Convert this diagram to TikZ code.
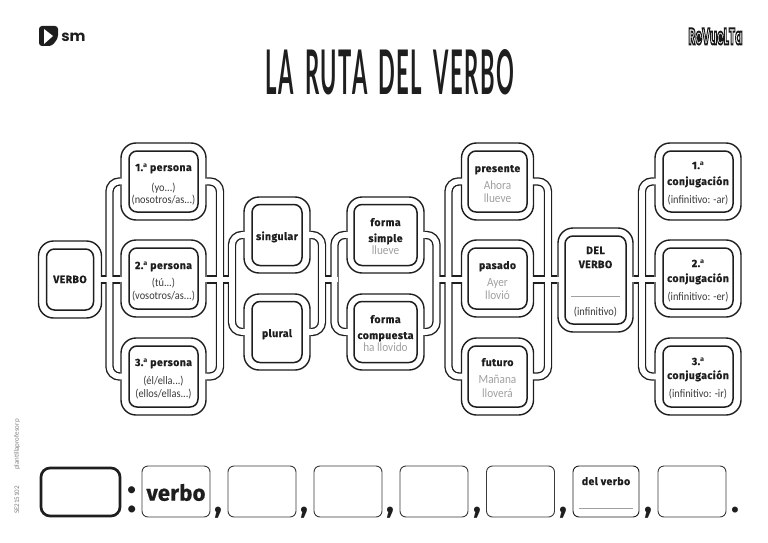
\documentclass[tikz,border=0pt]{standalone}
\usepackage{graphicx}
\usepackage{fontspec}
\setmainfont{Carlito}
\newfontfamily\headf[LetterSpace=4,BoldFeatures={FakeBold=0.7}]{Fira Sans}
\newfontfamily\bodyf[FakeStretch=0.9]{Carlito}
\newfontfamily\marginf{Carlito}
\newfontfamily\titlef[LetterSpace=7,WordSpace=1.6]{Lato}
\newfontfamily\logof{Poppins}
\newfontfamily\ordf{Open Sans}
\newfontfamily\punctf{Fira Sans}
\newfontfamily\colonf{Carlito}
\newcommand{\ord}{{\ordf\bfseries ª}}
\newcount\lblc
\newcommand{\lbl}[4]{\global\advance\lblc by 1 \node[#1] (lbl\the\lblc) at (#2,#3) {#4};}
\newcommand{\dbox}[5]{\node[outerbox,minimum width=#4pt,minimum height=#5pt] (#1) at (#2,#3) {};}
\newcommand{\ibox}[3]{\node[innerbox,minimum width=#2pt,minimum height=#3pt] (#1-in) at (#1.center) {};}
\definecolor{ink}{HTML}{1E1E1E}
\definecolor{body}{HTML}{3A3A3A}
\definecolor{ex}{HTML}{A0A0A0}
\definecolor{marg}{HTML}{808080}
\tikzset{
  outerbox/.style={draw=ink,line width=1.4pt,fill=white,rounded corners=15pt,inner sep=0},
  innerbox/.style={draw=ink,line width=1.5pt,fill=white,rounded corners=8pt,inner sep=0},
  chanblack/.style={draw=ink,line width=8.4pt,rounded corners=10pt},
  chanwhite/.style={draw=white,line width=5.7pt,rounded corners=10pt,shorten <=-3pt,shorten >=-3pt},
  head/.style={anchor=base,inner sep=0,text=ink,font=\headf\bfseries\fontsize{10.5}{12}\selectfont},
  sub/.style={anchor=base,inner sep=0,text=body,font=\bodyf\fontsize{11.5}{12}\selectfont},
  exm/.style={anchor=base,inner sep=0,text=ex,font=\bodyf\fontsize{12.5}{12}\selectfont},
  slot/.style={draw=body,line width=0.9pt,rounded corners=6pt,fill=white,minimum width=68pt,minimum height=51pt,inner sep=0},
  punct/.style={anchor=base,inner sep=0,text=ink,font=\punctf\bfseries\fontsize{33}{33}\selectfont},
  margin/.style={rotate=90,inner sep=0,text=marg,font=\marginf\fontsize{7}{8}\selectfont},
}
\begin{document}
\begin{tikzpicture}[x=1pt,y=-1pt]
\useasboundingbox (0,0) rectangle (768,543);
% junction coordinates
\coordinate (j1) at (109.5,279.5);
\coordinate (j2) at (220,279.5);
\coordinate (j3) at (232,279.5);
\coordinate (j4) at (322,279.5);
\coordinate (j5) at (334.5,279.5);
\coordinate (j6) at (436.5,279.5);
\coordinate (j7) at (448.5,279.5);
\coordinate (j8) at (548,279.5);
\coordinate (j9) at (642,279.5);
% outer rings
\dbox{verbo}{70}{279.5}{63}{77}
\dbox{p1}{163.5}{181.5}{85}{77}
\dbox{p2}{163.5}{278.5}{85}{77}
\dbox{p3}{163.5}{376.5}{85}{77}
\dbox{sing}{277}{235}{66}{76}
\dbox{plur}{277}{332}{66}{76}
\dbox{fsim}{385.5}{235}{77}{76}
\dbox{fcom}{385.5}{332}{77}{76}
\dbox{pres}{497.5}{181.5}{72}{77}
\dbox{pasa}{497.5}{278.5}{72}{77}
\dbox{futu}{497.5}{376.5}{72}{77}
\dbox{delv}{595.5}{280}{75}{104}
\dbox{c1}{698}{181.5}{86}{77}
\dbox{c2}{698}{278.5}{86}{77}
\dbox{c3}{698}{376.5}{86}{77}
% channels
\foreach \st in {chanblack,chanwhite}{
  \draw[\st] (p1.west) -| (j1) |- (p3.west);
  \draw[\st] (verbo.east |- j1) -- (p2.west |- j1);
  \draw[\st] (p1.east) -| (j2) |- (p3.east);
  \draw[\st] (p2.east |- j1) -- (j3);
  \draw[\st] (sing.west) -| (j3) |- (plur.west);
  \draw[\st] (sing.east) -| (j4) |- (plur.east);
  \draw[\st] (j4) -- (j5);
  \draw[\st] (fsim.west) -| (j5) |- (fcom.west);
  \draw[\st] (fsim.east) -| (j6) |- (fcom.east);
  \draw[\st] (j6) -- (pasa.west |- j1);
  \draw[\st] (pres.west) -| (j7) |- (futu.west);
  \draw[\st] (pres.east) -| (j8) |- (futu.east);
  \draw[\st] (pasa.east |- j1) -- (delv.west |- j1);
  \draw[\st] (delv.east |- j1) -- (c2.west |- j1);
  \draw[\st] (c1.west) -| (j9) |- (c3.west);
}
% inner boxes
\ibox{verbo}{47}{61}
\ibox{p1}{69}{61}
\ibox{p2}{69}{61}
\ibox{p3}{69}{61}
\ibox{sing}{50}{61}
\ibox{plur}{50}{61}
\ibox{fsim}{63}{61}
\ibox{fcom}{63}{61}
\ibox{pres}{59}{61}
\ibox{pasa}{59}{61}
\ibox{futu}{59}{61}
\ibox{delv}{61}{88}
\ibox{c1}{70}{61}
\ibox{c2}{70}{61}
\ibox{c3}{70}{61}
% labels
\lbl{head}{70}{283}{VERBO}
\lbl{head}{163.5}{171}{1.\ord{} persona}
\lbl{sub}{163.5}{191}{(yo...)}
\lbl{sub}{163.5}{203}{(nosotros/as...)}
\lbl{head}{163.5}{269}{2.\ord{} persona}
\lbl{sub}{163.5}{286}{(tú...)}
\lbl{sub}{163.5}{299}{(vosotros/as...)}
\lbl{head}{163.5}{366}{3.\ord{} persona}
\lbl{sub}{163.5}{384}{(él/ella...)}
\lbl{sub}{163.5}{397}{(ellos/ellas...)}
\lbl{head}{277}{240}{singular}
\lbl{head}{277}{337}{plural}
\lbl{head}{385.5}{226}{forma}
\lbl{head}{385.5}{242}{simple}
\lbl{exm}{385.5}{254}{llueve}
\lbl{head}{385.5}{323}{forma}
\lbl{head}{385.5}{339}{compuesta}
\lbl{exm}{385.5}{351}{ha llovido}
\lbl{head}{497.5}{172}{presente}
\lbl{exm}{497.5}{189}{Ahora}
\lbl{exm}{497.5}{202}{llueve}
\lbl{head}{497.5}{269}{pasado}
\lbl{exm}{497.5}{286}{Ayer}
\lbl{exm}{497.5}{299}{llovió}
\lbl{head}{497.5}{366}{futuro}
\lbl{exm}{497.5}{383}{Mañana}
\lbl{exm}{497.5}{397}{lloverá}
\lbl{head}{595.5}{254}{DEL}
\lbl{head}{595.5}{268}{VERBO}
\draw[draw=ex,line width=0.8pt] (571,296) -- (620,296);
\lbl{sub}{595.5}{315}{(infinitivo)}
\lbl{head}{698}{169}{1.\ord}
\lbl{head}{698}{185}{conjugación}
\lbl{sub}{698}{203}{(infinitivo: -ar)}
\lbl{head}{698}{267}{2.\ord}
\lbl{head}{698}{282}{conjugación}
\lbl{sub}{698}{300}{(infinitivo: -er)}
\lbl{head}{698}{365}{3.\ord}
\lbl{head}{698}{379}{conjugación}
\lbl{sub}{698}{397}{(infinitivo: -ir)}
% title
\node[inner sep=0,text=ink] (title) at (390,72.5) {\resizebox{248pt}{45pt}{\titlef\bfseries LA RUTA DEL VERBO}};
% sm logo
\fill[ink,rounded corners=3pt] (39,26) -- (58,26) -- (58,38) -- (52,46) -- (39,46) -- cycle;
\fill[white] (44,29) -- (53,36) -- (44,44) -- cycle;
\node[inner sep=0,text=ink,font=\logof\bfseries\fontsize{15}{18}\selectfont] (smlogo) at (73.5,37) {sm};
% revuelta logo
\node[inner sep=0,font=\logof\bfseries\fontsize{14}{15}\selectfont] (revuelta) at (715.5,36.5) {\resizebox{54pt}{16pt}{\special{pdf:code 2 Tr 1.2 w 1 g 0.1 G}ReVueLTa\special{pdf:code 0 Tr 0 g 0 G}}};
% margin
\node[margin] (m1) at (17,500) {SE215102};
\node[margin] (m2) at (17,444.5) {plantillaprofesorp};
% bottom row
\node[draw=ink,line width=2.7pt,rounded corners=9pt,minimum width=79pt,minimum height=48pt,inner sep=0] (big) at (80.5,492) {};
\node[anchor=base,inner sep=0,text=ink,font=\colonf\fontsize{58}{58}\selectfont] (colon) at (132,512.5) {:};
\node[slot] (s1) at (176,491.5) {};
\node[inner sep=0,text=ink,font=\headf\bfseries\fontsize{22}{24}\selectfont] (verbo2) at (176,492.5) {\addfontfeature{LetterSpace=1}verbo};
\node[punct] (c-1) at (218,512) {,};
\node[slot] (s2) at (262,491.5) {};
\node[punct] (c-2) at (304,512) {,};
\node[slot] (s3) at (348,491.5) {};
\node[punct] (c-3) at (390,512) {,};
\node[slot] (s4) at (434,491.5) {};
\node[punct] (c-4) at (477,512) {,};
\node[slot] (s5) at (520.5,491.5) {};
\node[punct] (c-5) at (563,512) {,};
\node[slot,minimum width=66pt,draw=ink] (s6) at (606,491.5) {};
\node[inner sep=0,anchor=base,text=ink,font=\headf\bfseries\fontsize{10.5}{12}\selectfont] (dv) at (606,485) {del verbo};
\draw[draw=ex,line width=0.8pt] (579,508) -- (633,508);
\node[punct] (c-6) at (648,512) {,};
\node[slot] (s7) at (692,491.5) {};
\node[punct] (dot) at (735,512) {.};
\end{tikzpicture}
\end{document}
